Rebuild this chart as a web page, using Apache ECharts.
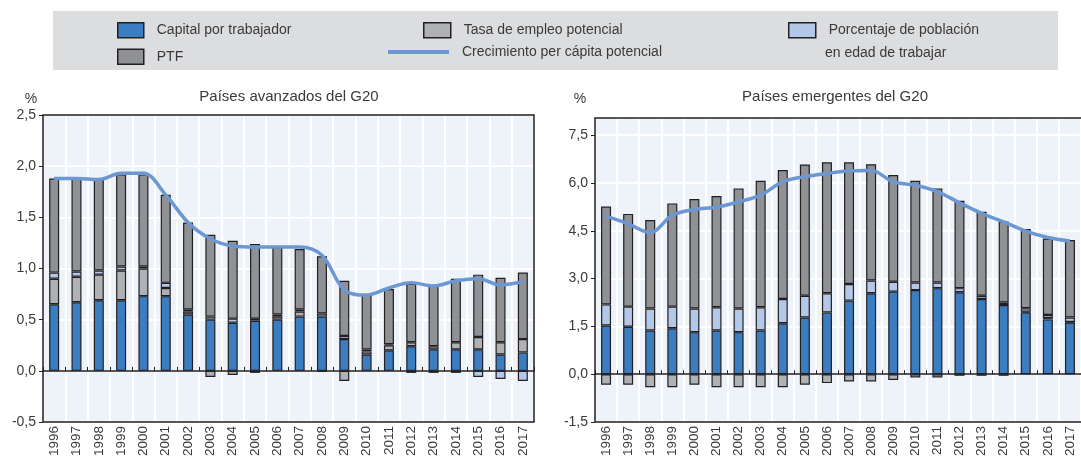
<!DOCTYPE html>
<html>
<head>
<meta charset="utf-8">
<script src="https://cdn.jsdelivr.net/npm/echarts@6/dist/echarts.min.js"></script>
<style>
html,body{margin:0;padding:0;background:#fff;}
#main{width:1081px;height:462px;}
</style>
</head>
<body>
<div id="main"></div>
<script>
// años
var anios = ['1996','1997','1998','1999','2000','2001','2002','2003','2004','2005','2006','2007','2008','2009','2010','2011','2012','2013','2014','2015','2016','2017'];

// Países avanzados del G20
var capitalAv = [0.65,0.67,0.69,0.69,0.73,0.73,0.55,0.50,0.47,0.49,0.50,0.53,0.53,0.31,0.16,0.20,0.24,0.21,0.21,0.21,0.16,0.18];
var tasaAv    = [0.25,0.25,0.25,0.29,0.27,0.08,0.03,-0.06,-0.04,-0.02,0.03,0.05,-0.01,-0.10,0.03,0.05,0.04,0.03,0.07,0.12,0.12,0.13];
var poblAv    = [0.06,0.05,0.04,0.04,0.02,0.05,0.02,0.03,0.04,0.02,0.02,0.02,0.03,0.03,0.02,0.01,-0.02,-0.02,-0.02,-0.06,-0.08,-0.10];
var ptfAv     = [0.92,0.91,0.89,0.90,0.90,0.86,0.85,0.80,0.76,0.73,0.66,0.59,0.56,0.54,0.54,0.54,0.57,0.60,0.62,0.61,0.63,0.65];
var crecAv    = [1.88,1.88,1.87,1.93,1.93,1.72,1.45,1.29,1.22,1.21,1.21,1.21,1.13,0.79,0.74,0.81,0.86,0.83,0.88,0.90,0.84,0.87];

// Países emergentes del G20
var capitalEm = [1.53,1.49,1.37,1.44,1.32,1.37,1.32,1.37,1.60,1.78,1.94,2.31,2.54,2.59,2.64,2.70,2.57,2.36,2.17,1.94,1.72,1.62];
var tasaEm    = [-0.33,-0.33,-0.41,-0.41,-0.33,-0.41,-0.41,-0.41,-0.41,-0.33,-0.28,-0.23,-0.23,-0.18,-0.10,-0.10,-0.05,-0.05,-0.05,0.02,0.04,0.02];
var poblEm    = [0.66,0.63,0.69,0.68,0.74,0.73,0.74,0.73,0.76,0.68,0.60,0.52,0.40,0.31,0.24,0.18,0.13,0.10,0.08,0.11,0.10,0.14];
var ptfEm     = [3.07,2.91,2.78,3.24,3.44,3.49,3.77,3.97,4.05,4.12,4.11,3.82,3.65,3.35,3.19,2.95,2.74,2.64,2.54,2.49,2.40,2.43];
var crecEm    = [4.96,4.72,4.44,4.99,5.17,5.24,5.41,5.62,6.04,6.20,6.30,6.38,6.39,6.04,5.93,5.73,5.38,5.05,4.78,4.49,4.29,4.18];

var nCap = 'Capital por trabajador', nPtf = 'PTF', nTasa = 'Tasa de empleo potencial',
    nCrec = 'Crecimiento per cápita potencial', nPobl = 'Porcentaje de población en edad de trabajar';

var azul = '#3b7dc1', grisOsc = '#8f9194', grisCla = '#afb1b4', azulCla = '#b3c7e8', linea = '#6b98d3', borde = '#231f20';
var txt = '#3a3a3a', fuente = 'Liberation Sans';

// marcos de los dos paneles (px)
var marcoAv = {left: 43, top: 115, width: 491, height: 307, min: -0.5, max: 2.5, paso: 0.5};
var marcoEm = {left: 595, top: 118, width: 491, height: 304, min: -1.5, max: 8.04, paso: 1.5};

var myChart = echarts.init(document.getElementById('main'));

function coma(v){ return v.toFixed(1).replace('.', ','); }

function barras(nombre, datos, color, xi, yi){
    return {
        name: nombre, type: 'bar', stack: 'g' + xi, data: datos,
        xAxisIndex: xi, yAxisIndex: yi, barWidth: 10,
        itemStyle: {color: color, borderColor: borde, borderWidth: 1.2},
        emphasis: {disabled: true}
    };
}
function curva(datos, xi, yi){
    return {
        name: nCrec, type: 'line', data: datos, xAxisIndex: xi, yAxisIndex: yi,
        smooth: 0.35, symbol: 'none', z: 5,
        lineStyle: {color: linea, width: 3.5}, itemStyle: {color: linea}
    };
}
// eje de categorías abajo, solo etiquetas y rejilla vertical
function ejeX(gi){
    return {
        type: 'category', gridIndex: gi, data: anios, position: 'bottom',
        axisLine: {show: false, onZero: false},
        axisTick: {show: false},
        axisLabel: {rotate: 90, color: txt, fontSize: 13.5, fontFamily: fuente, margin: 4},
        splitLine: {show: true, lineStyle: {color: '#ffffff', width: 2}}
    };
}
// línea del cero con marcas entre años: eje arriba desplazado hasta el 0
function ejeCero(gi, m){
    var yCero = m.height * m.max / (m.max - m.min);
    return {
        type: 'value', gridIndex: gi, position: 'top', offset: -yCero, z: 3,
        min: -0.5, max: anios.length - 0.5, interval: 1,
        axisLine: {show: true, onZero: false, lineStyle: {color: borde, width: 1.5}},
        axisTick: {show: true, inside: false, length: 4, lineStyle: {color: borde, width: 1}},
        axisLabel: {show: false},
        splitLine: {show: false}
    };
}
function ejeY(gi, m){
    return {
        type: 'value', gridIndex: gi, min: m.min, max: m.max, interval: m.paso,
        axisLine: {show: false, onZero: false},
        axisTick: {show: true, length: 4, lineStyle: {color: borde}},
        axisLabel: {
            color: txt, fontSize: 14, fontFamily: fuente, margin: 7, showMaxLabel: m.max % m.paso === 0,
            formatter: function(v){
                var k = v / m.paso;
                if (Math.abs(k - Math.round(k)) > 1e-6) return '';
                return coma(v);
            }
        },
        splitLine: {show: true, lineStyle: {color: '#ffffff', width: 2}}
    };
}
function leyenda(datos, left, top, w, h, extra){
    var l = {
        data: datos, left: left, top: top, orient: 'vertical', itemWidth: w, itemHeight: h, itemGap: 8,
        selectedMode: false, padding: 0, icon: 'rect',
        itemStyle: {borderColor: borde, borderWidth: 1.5},
        textStyle: {color: txt, fontSize: 14, fontFamily: fuente, padding: [0, 0, 0, 8]}
    };
    for (var k in extra) l[k] = extra[k];
    return l;
}
function marco(m){
    return {type: 'rect', z: 20, silent: true,
        shape: {x: m.left, y: m.top, width: m.width, height: m.height},
        style: {fill: null, stroke: borde, lineWidth: 1.5}};
}
function rejilla(m){
    return {left: m.left, top: m.top, width: m.width, height: m.height, show: true,
        backgroundColor: '#eef2f9', borderWidth: 0};
}

var option = {
    animation: false,
    graphic: [
        {type: 'rect', z: -10, shape: {x: 53, y: 11, width: 1005, height: 59}, style: {fill: '#dcdddf'}},
        {type: 'text', x: 825, y: 53, style: {text: 'en edad de trabajar', font: '14px "Liberation Sans"', fill: txt, textVerticalAlign: 'middle'}},
        {type: 'text', x: 289, y: 97, style: {text: 'Países avanzados del G20', font: '15px "Liberation Sans"', fill: txt, textAlign: 'center', textVerticalAlign: 'middle'}},
        {type: 'text', x: 835, y: 97, style: {text: 'Países emergentes del G20', font: '15px "Liberation Sans"', fill: txt, textAlign: 'center', textVerticalAlign: 'middle'}},
        {type: 'text', x: 31, y: 99, style: {text: '%', font: '14px "Liberation Sans"', fill: txt, textAlign: 'center', textVerticalAlign: 'middle'}},
        {type: 'text', x: 580, y: 99, style: {text: '%', font: '14px "Liberation Sans"', fill: txt, textAlign: 'center', textVerticalAlign: 'middle'}},
        marco(marcoAv),
        marco(marcoEm)
    ],
    legend: [
        leyenda([nCap, nPtf], 117, 22, 26, 15, {itemGap: 10}),
        leyenda([nTasa], 423, 22, 27, 15, {}),
        leyenda([nCrec], 388, 45, 61, 4, {itemStyle: {borderWidth: 0}}),
        leyenda([nPobl], 788, 22, 27, 15, {formatter: function(){ return 'Porcentaje de población'; }})
    ],
    grid: [rejilla(marcoAv), rejilla(marcoEm)],
    xAxis: [ejeX(0), ejeCero(0, marcoAv), ejeX(1), ejeCero(1, marcoEm)],
    yAxis: [ejeY(0, marcoAv), ejeY(1, marcoEm)],
    series: [
        barras(nCap, capitalAv, azul, 0, 0),
        barras(nTasa, tasaAv, grisCla, 0, 0),
        barras(nPobl, poblAv, azulCla, 0, 0),
        barras(nPtf, ptfAv, grisOsc, 0, 0),
        curva(crecAv, 0, 0),
        barras(nCap, capitalEm, azul, 2, 1),
        barras(nTasa, tasaEm, grisCla, 2, 1),
        barras(nPobl, poblEm, azulCla, 2, 1),
        barras(nPtf, ptfEm, grisOsc, 2, 1),
        curva(crecEm, 2, 1)
    ]
};

myChart.setOption(option);
</script>
</body>
</html>
